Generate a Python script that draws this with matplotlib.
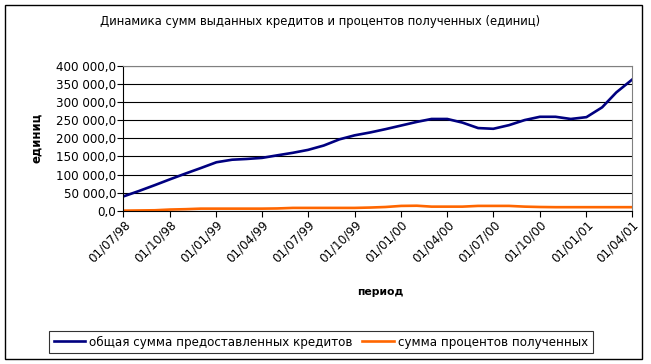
import matplotlib
matplotlib.use("Agg")
import matplotlib.pyplot as plt
import matplotlib.dates as mdates
from matplotlib.patches import Rectangle
from matplotlib.ticker import FuncFormatter, MultipleLocator
import pandas as pd

# monthly data, 01/07/98 .. 01/04/01
months = pd.date_range("1998-07-01", "2001-04-01", freq="MS")

credits = [40000, 55000, 71000, 87000, 103000, 118000, 134000, 141000,
           143000, 146000, 153000, 160000, 168000, 180000, 197000, 208000,
           216000, 225000, 235000, 245000, 253000, 253000, 243000, 228000,
           226000, 236000, 250000, 259000, 259000, 253000, 258000, 285000,
           326000, 361000]

interest = [1000, 1500, 2000, 4000, 5000, 6500, 6500, 6500, 6500, 6500,
            7000, 8500, 8500, 8500, 8500, 8500, 9500, 11000, 14000, 14500,
            12000, 12000, 12000, 14000, 14000, 14000, 12000, 11000, 10500,
            10500, 10500, 10500, 10500, 10500]

tick_dates = months[::3]

title = "Динамика сумм выданных кредитов и процентов полученных (единиц)"
label_credits = "общая сумма предоставленных кредитов"
label_interest = "сумма процентов полученных"

plt.rcParams["font.family"] = ["DejaVu Sans"]

fig = plt.figure(figsize=(6.51, 3.64), dpi=100)
W, H = 651, 364

# chart border
fig.patches.append(Rectangle((5 / W, (H - 359) / H), 637 / W, 354 / H,
                             transform=fig.transFigure, fill=False,
                             edgecolor="black", linewidth=1.0))

ax = fig.add_axes([123.3 / W, (H - 211) / H, (632 - 123.3) / W, (211 - 65.5) / H])

ax.plot(months, credits, color="#000080", linewidth=1.9, label=label_credits)
ax.plot(months, interest, color="#FF6600", linewidth=1.9, label=label_interest)

ax.set_xlim(months[0], months[-1])
ax.set_ylim(0, 400000)
ax.yaxis.set_major_locator(MultipleLocator(50000))
ax.yaxis.set_major_formatter(FuncFormatter(
    lambda v, p: f"{v:,.1f}".replace(",", " ").replace(".", ",")))
ax.set_xticks(tick_dates)
ax.xaxis.set_major_formatter(mdates.DateFormatter("%d/%m/%y"))

ax.grid(axis="y", color="black", linewidth=0.8)
ax.set_axisbelow(True)
for s in ["top", "right"]:
    ax.spines[s].set_color("#808080")
    ax.spines[s].set_linewidth(0.8)
for s in ["left", "bottom"]:
    ax.spines[s].set_color("black")
    ax.spines[s].set_linewidth(0.8)

ax.tick_params(axis="y", labelsize=8.6, length=4, width=0.8, pad=1)
ax.tick_params(axis="x", labelsize=8.6, length=4, width=0.8, pad=1)
for lbl in ax.get_xticklabels():
    lbl.set_rotation(45)
    lbl.set_ha("right")
    lbl.set_va("top")
    lbl.set_rotation_mode("anchor")

fig.text(320 / W, 1 - 22 / H, title, ha="center", va="center", fontsize=8.4)
fig.text(37 / W, 1 - 138 / H, "единиц", rotation=90, ha="center", va="center",
         fontsize=8.4, fontweight="bold")
fig.text(380 / W, 1 - 292 / H, "период", ha="center", va="center",
         fontsize=7.8, fontweight="bold")

leg = fig.legend(loc="center", bbox_to_anchor=(321 / W, 1 - 342 / H), ncol=2,
                 fontsize=8.6, frameon=True, fancybox=False, handlelength=2.6,
                 handletextpad=0.4, columnspacing=0.8, borderpad=0.35)
leg.get_frame().set_edgecolor("black")
leg.get_frame().set_linewidth(0.8)

fig.savefig("out.png", dpi=100)
